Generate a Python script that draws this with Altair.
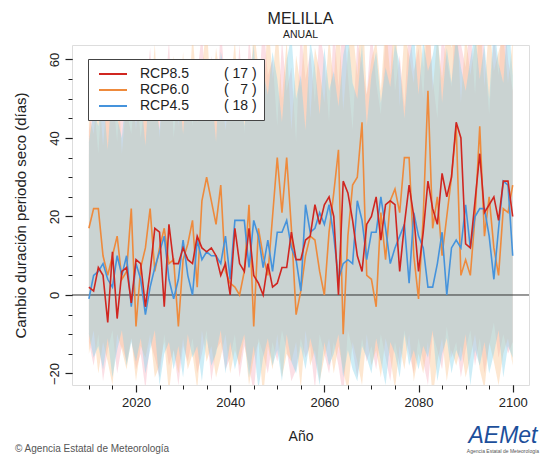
import altair as alt
import pandas as pd

# ---------------- data ----------------
years = list(range(2010, 2101))

scenarios = ["RCP8.5", "RCP6.0", "RCP4.5"]
model_counts = [17, 7, 18]

rcp85 = [2, 1, 7, 5, -7, 11, -6, 6, 7, -2,
         9, 8, -3, 6, 17, 16, -3, 18, 8, 8,
         12, 9, 8, 15, 12, 11, 12, 10, 5, 8,
         0, 17, 8, 6, 17, 5, 3, 0, 8, 2,
         3, 7, 7, 16, 9, 9, 14, 15, 23, 18,
         23, 25, 20, 0, 29, 26, 19, 10, 6, 18,
         20, 25, 14, 23, 24, 23, 6, 18, 28, 20,
         6, 16, 29, 22, 18, 31, 25, 30, 44, 40,
         13, 12, 24, 36, 21, 23, 25, 19, 29, 29,
         20]
rcp60 = [17, 22, 22, 10, 5, 10, 15, 4, 6, 22,
         -8, 7, 12, 22, 6, 12, 17, 8, 9, -8,
         9, 13, 19, 2, 24, 30, 24, 18, 28, 6,
         3, 2, 0, 6, 23, -8, 17, 10, 5, 20,
         35, 21, 35, 17, -5, 1, 10, 15, 14, 6,
         0, 16, 26, 37, -10, 15, 28, 30, 44, 5,
         4, -3, 21, 9, 24, 27, 21, 35, 35, 10,
         -1, 20, 52, 17, 25, 10, 20, 30, 43, 5,
         9, 5, 20, 43, 15, 25, 12, 5, 22, 21,
         28]
rcp45 = [-1, 5, 6, 8, 4, 2, 10, 5, 10, -3,
         8, 4, -5, 2, 7, 11, 15, 4, -1, 4,
         14, 5, 0, 14, 9, 11, 10, 10, 8, 15,
         4, 19, 19, 19, 7, 19, 15, 7, 14, 6,
         16, 16, 19, 12, 9, 1, 23, 16, 17, 21,
         18, 23, 15, 4, 8, 9, 8, 24, 19, 9,
         16, 16, 25, 17, 8, 12, 15, 18, 3, 21,
         15, 12, 2, 2, 8, 16, 0, 12, 14, 12,
         23, 12, 20, 22, 22, 15, 4, 17, 29, 28,
         10]

rcp85_hi = [42, 50, 36, 55, 46, 52, 39, 60, 47, 41,
            54, 40, 51, 63, 44, 57, 48, 65, 40, 53,
            46, 59, 43, 56, 67, 49, 61, 44, 69, 52,
            57, 47, 64, 41, 66, 54, 50, 70, 56, 60,
            43, 65, 52, 58, 39, 68, 55, 62, 49, 67,
            60, 44, 69, 53, 72, 56, 42, 65, 59, 51,
            68, 54, 46, 66, 73, 52, 61, 48, 70, 57,
            63, 50, 74, 55, 45, 67, 60, 53, 76, 64,
            58, 69, 51, 72, 62, 46, 66, 56, 75, 60,
            52]
rcp85_lo = [-12, -18, -10, -22, -14, -9, -20, -13, -17, -11,
            -19, -15, -24, -12, -16, -21, -10, -18, -14, -23,
            -13, -17, -11, -20, -15, -9, -22, -14, -12, -19,
            -16, -10, -21, -13, -18, -25, -11, -15, -20, -12,
            -17, -9, -14, -22, -19, -11, -16, -13, -24, -10,
            -15, -20, -12, -18, -26, -9, -14, -21, -11, -17,
            -13, -19, -10, -16, -22, -12, -18, -9, -15, -20,
            -11, -17, -23, -10, -14, -19, -8, -16, -12, -21,
            -14, -9, -18, -11, -20, -13, -7, -16, -10, -15,
            -12]
rcp60_hi = [46, 41, 54, 38, 52, 44, 59, 36, 50, 56,
            42, 58, 45, 49, 64, 40, 55, 47, 61, 43,
            62, 44, 67, 51, 57, 70, 48, 63, 54, 42,
            52, 65, 44, 60, 49, 68, 58, 46, 72, 55,
            69, 50, 65, 42, 61, 53, 71, 45, 63, 57,
            49, 66, 54, 74, 47, 62, 68, 56, 76, 51,
            60, 65, 52, 70, 56, 74, 48, 67, 61, 54,
            71, 58, 80, 52, 66, 55, 68, 63, 73, 49,
            67, 56, 64, 72, 53, 69, 57, 62, 66, 54,
            65]
rcp60_lo = [-15, -9, -20, -12, -17, -23, -10, -14, -19, -11,
            -22, -13, -16, -10, -21, -18, -12, -25, -14, -20,
            -11, -19, -15, -24, -9, -17, -13, -21, -16, -10,
            -20, -14, -18, -11, -23, -16, -12, -26, -13, -19,
            -10, -21, -15, -17, -12, -24, -9, -18, -14, -22,
            -16, -11, -20, -13, -19, -25, -12, -17, -23, -10,
            -18, -14, -21, -11, -16, -24, -13, -19, -10, -22,
            -15, -20, -12, -26, -17, -11, -22, -14, -18, -13,
            -21, -16, -10, -19, -24, -12, -17, -23, -15, -11,
            -18]
rcp45_hi = [39, 47, 43, 51, 37, 55, 45, 40, 53, 48,
            44, 52, 38, 56, 49, 42, 58, 51, 46, 54,
            41, 57, 50, 44, 60, 47, 53, 39, 62, 56,
            48, 54, 59, 43, 52, 64, 45, 57, 51, 62,
            55, 44, 60, 66, 50, 56, 42, 65, 58, 46,
            63, 52, 57, 48, 61, 67, 54, 50, 64, 43,
            56, 62, 49, 58, 53, 64, 59, 45, 60, 67,
            51, 65, 57, 61, 68, 49, 63, 54, 66, 58,
            52, 60, 67, 55, 64, 50, 69, 59, 54, 72,
            56]
rcp45_lo = [-10, -16, -13, -19, -11, -21, -14, -9, -18, -12,
            -17, -11, -20, -14, -9, -23, -15, -12, -19, -13,
            -21, -10, -16, -13, -22, -11, -18, -15, -9, -20,
            -12, -19, -14, -10, -21, -13, -24, -16, -11, -18,
            -14, -22, -10, -17, -20, -13, -19, -11, -16, -23,
            -12, -18, -15, -10, -21, -14, -19, -22, -13, -16,
            -20, -11, -17, -23, -12, -15, -21, -10, -18, -14,
            -19, -13, -16, -9, -22, -15, -11, -20, -14, -17,
            -10, -23, -14, -18, -12, -20, -15, -9, -21, -13,
            -16]

line_colors = ["#d02620", "#ee8a3c", "#4593dc"]
band_colors = ["#f5afbe", "#fac38c", "#82d2eb"]

mids = [rcp85, rcp60, rcp45]
los = [rcp85_lo, rcp60_lo, rcp45_lo]
his = [rcp85_hi, rcp60_hi, rcp45_hi]

rows = []
for name, mid, lo, hi in zip(scenarios, mids, los, his):
    for yr, m, l, h in zip(years, mid, lo, hi):
        rows.append({"year": yr, "scenario": name, "value": m, "lo": l, "hi": h})
df = pd.DataFrame(rows)

# legend label text: name + padded model count
NB = "\u00a0"
def legend_text(name, n):
    num = (NB * 2 + str(n)) if n < 10 else str(n)
    return name + NB * 9 + "(" + NB + num + NB + ")"

label_expr = " : ".join(
    [f"datum.label == '{s}' ? '{legend_text(s, n)}'" for s, n in zip(scenarios[:-1], model_counts[:-1])]
    + [f"'{legend_text(scenarios[-1], model_counts[-1])}'"]
)

FONT = "Liberation Sans"
xscale = alt.Scale(domain=[2006.41, 2103.46], nice=False, zero=False)
yscale = alt.Scale(domain=[-22.93, 63.69], nice=False, zero=False)

x_major = alt.Axis(values=[2020, 2040, 2060, 2080, 2100], format="d", orient="bottom",
                   tickSize=7, tickWidth=1.2, tickColor="#222", domain=False, grid=False,
                   labelFont=FONT, labelFontSize=13, labelColor="#222", labelPadding=4,
                   title="Año", titleFont=FONT, titleFontSize=14, titleFontWeight="normal",
                   titleColor="#222", titlePadding=20)
y_major = alt.Axis(values=[-20, 0, 20, 40, 60], orient="left",
                   tickSize=7, tickWidth=1.2, tickColor="#222", domain=False, grid=False,
                   labelFont=FONT, labelFontSize=13, labelColor="#222", labelPadding=4,
                   labelAngle=270, labelAlign="center", labelBaseline="bottom",
                   title="Cambio duración periodo seco (días)", titleFont=FONT,
                   titleFontSize=15, titleFontWeight="normal", titleColor="#222", titlePadding=20)
x_minor = alt.Axis(values=list(range(2010, 2101, 5)), orient="bottom", labels=False,
                   tickSize=4, tickWidth=1, tickColor="#222", domain=False, grid=False, title=None)
y_minor = alt.Axis(values=list(range(-20, 61, 5)), orient="left", labels=False,
                   tickSize=4, tickWidth=1, tickColor="#222", domain=False, grid=False, title=None)

layers = []
for i, (name, col) in enumerate(zip(scenarios, band_colors)):
    if i == 0:
        xa, ya = x_major, y_major
    elif i == 1:
        xa, ya = x_minor, y_minor
    else:
        xa, ya = None, None
    layers.append(
        alt.Chart(df).transform_filter(alt.datum.scenario == name)
        .mark_area(color=col, opacity=0.4, clip=True, interpolate="linear")
        .encode(x=alt.X("year:Q", scale=xscale, axis=xa),
                y=alt.Y("lo:Q", scale=yscale, axis=ya),
                y2="hi:Q")
    )

zero = alt.Chart(pd.DataFrame({"zero": [0]})).mark_rule(color="#333", strokeWidth=1).encode(
    y=alt.Y("zero:Q", scale=yscale, axis=None))
layers.append(zero)

color_scale = alt.Scale(domain=scenarios, range=line_colors)
legend = alt.Legend(title=None, orient="none", legendX=16, legendY=14,
                    symbolType="M-2,0L2,0", symbolSize=196, symbolStrokeWidth=2,
                    symbolOffset=10,
                    labelFont=FONT, labelFontSize=14, labelColor="#222",
                    labelExpr=label_expr, strokeColor="#444", fillColor="white",
                    padding=7, rowPadding=1, labelOffset=19, cornerRadius=0)

for name in ["RCP6.0", "RCP4.5", "RCP8.5"]:
    layers.append(
        alt.Chart(df).transform_filter(alt.datum.scenario == name)
        .mark_line(strokeWidth=1.6, clip=True)
        .encode(x=alt.X("year:Q", scale=xscale, axis=None),
                y=alt.Y("value:Q", scale=yscale, axis=None),
                color=alt.Color("scenario:N", scale=color_scale, legend=legend))
    )

one = pd.DataFrame({"k": [0]})
copyright_txt = alt.Chart(one).mark_text(align="left", baseline="alphabetic", font=FONT,
                                         fontSize=10, color="#555").encode(
    x=alt.value(-57), y=alt.value(407), text=alt.value("© Agencia Estatal de Meteorología"))
logo = alt.Chart(one).mark_text(align="center", baseline="alphabetic", font=FONT,
                                fontSize=23, fontStyle="italic", color="#1d4f9b").encode(
    x=alt.value(431), y=alt.value(398), text=alt.value("AEMet"))
logo_sub = alt.Chart(one).mark_text(align="center", baseline="alphabetic", font=FONT,
                                    fontSize=5, color="#555").encode(
    x=alt.value(431), y=alt.value(408), text=alt.value("Agencia Estatal de Meteorología"))
layers += [copyright_txt, logo, logo_sub]

chart = alt.layer(*layers).resolve_axis(x="independent", y="independent").properties(
    width=457, height=340,
    title=alt.TitleParams("MELILLA", subtitle="ANUAL", font=FONT, fontSize=16,
                          fontWeight="normal", color="#222", subtitleFont=FONT,
                          subtitleFontSize=10.5, subtitleColor="#222", anchor="middle",
                          offset=5, subtitlePadding=3),
    autosize=alt.AutoSizeParams(type="none"),
    padding={"left": 72, "top": 45, "right": 12, "bottom": 72},
).configure_view(stroke="#222", strokeWidth=1).configure(background="white")

chart.save("out.html", embed_options={"renderer": "svg", "actions": False})
